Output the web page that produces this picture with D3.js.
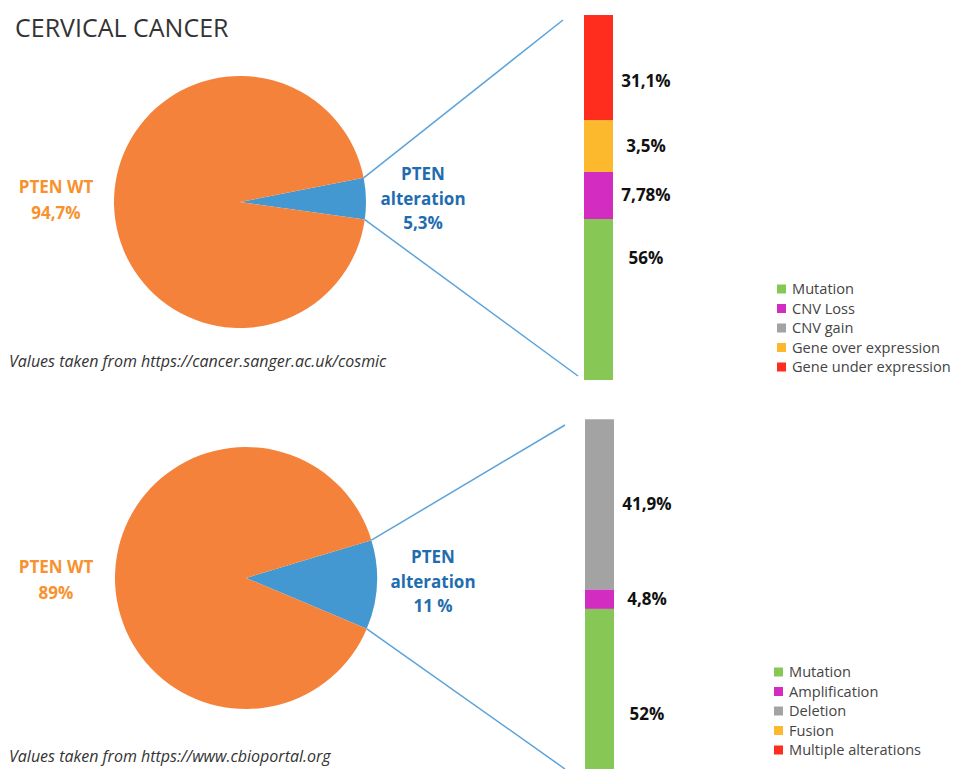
<!DOCTYPE html>
<html>
<head>
<meta charset="utf-8">
<script src="https://d3js.org/d3.v7.min.js"></script>
<style>
  body { margin: 0; background: #fff; }
  svg { display: block; font-family: 'Open Sans', sans-serif; }
</style>
</head>
<body>
<svg id="chart" width="955" height="769"></svg>
<script>
// --- data ---
const cosmicPie = [5.3, 94.7];
const cosmicPieLabels = ["5,3%", "94,7%"];
const cbioPie = [11, 89];
const cbioPieLabels = ["11 %", "89%"];

// top bar: shares as drawn in the picture (bottom to top), with printed labels
const cosmicBarKeys = ["Mutation", "CNV Loss", "Gene over expression", "Gene under expression"];
const cosmicBarShares = [44.1, 12.9, 14.2, 28.8];
const cosmicBarLabels = ["56%", "7,78%", "3,5%", "31,1%"];
const cosmicLegend = ["Mutation", "CNV Loss", "CNV gain", "Gene over expression", "Gene under expression"];

const cbioBarKeys = ["Mutation", "Amplification", "Deletion"];
const cbioBarShares = [52, 4.8, 41.9];
const cbioBarLabels = ["52%", "4,8%", "41,9%"];
const cbioLegend = ["Mutation", "Amplification", "Deletion", "Fusion", "Multiple alterations"];

const legendColors = ["#86c755", "#d22cc0", "#a3a3a3", "#fdb92e", "#ff2d1e"];
const cosmicColors = d3.scaleOrdinal().domain(cosmicLegend).range(legendColors);
const cbioColors = d3.scaleOrdinal().domain(cbioLegend).range(legendColors);

const svg = d3.select("#chart");

svg.append("text")
  .attr("x", 15).attr("y", 37)
  .attr("font-size", 25).attr("fill", "#333")
  .text("CERVICAL CANCER");

function drawPanel(opt) {
  const g = svg.append("g");

  // pie
  const alt = opt.pie[0] / 100;
  const mid = opt.midAngle * Math.PI / 180;
  const pie = d3.pie().sort(null).value(d => d)
    .startAngle(mid - alt * Math.PI)
    .endAngle(mid - alt * Math.PI + 2 * Math.PI);
  const arcs = pie(opt.pie);
  const arc = d3.arc().innerRadius(0).outerRadius(opt.r);
  const pg = g.append("g").attr("transform", `translate(${opt.cx},${opt.cy})`);
  pg.selectAll("path").data(arcs).enter().append("path")
    .attr("d", arc)
    .attr("fill", (d, i) => i === 0 ? "#4498d2" : "#f5823b");

  // connector lines from the wedge corners to the bar
  const a0 = arcs[0].startAngle, a1 = arcs[0].endAngle;
  const corner = a => [opt.cx + opt.r * Math.sin(a), opt.cy - opt.r * Math.cos(a)];
  [[corner(a0), opt.lineTop], [corner(a1), opt.lineBottom]].forEach(([p, q]) => {
    g.append("line")
      .attr("x1", p[0]).attr("y1", p[1]).attr("x2", q[0]).attr("y2", q[1])
      .attr("stroke", "#5ba3db").attr("stroke-width", 1.5);
  });

  // pie labels
  const wt = g.append("text").attr("text-anchor", "middle")
    .attr("font-weight", "bold").attr("font-size", 17).attr("fill", "#f7922f");
  wt.append("tspan").attr("x", 56).attr("y", opt.wtY).text("PTEN WT");
  wt.append("tspan").attr("x", 56).attr("y", opt.wtY + 26).text(opt.pieLabels[1]);

  const al = g.append("text").attr("text-anchor", "middle")
    .attr("font-weight", "bold").attr("font-size", 17).attr("fill", "#1f6dae");
  ["PTEN", "alteration", opt.pieLabels[0]].forEach((t, i) => {
    al.append("tspan").attr("x", opt.altX).attr("y", opt.altY + i * 24.5).text(t);
  });

  // stacked bar
  const y = d3.scaleLinear().domain([0, 100]).range(opt.barRange);
  const stacked = d3.cumsum(opt.shares);
  const segs = opt.shares.map((v, i) => ({
    key: opt.keys[i], label: opt.labels[i],
    y0: i ? stacked[i - 1] : 0, y1: stacked[i]
  }));
  g.selectAll("rect.seg").data(segs).enter().append("rect")
    .attr("class", "seg")
    .attr("x", opt.barX).attr("width", 29)
    .attr("y", d => y(d.y1))
    .attr("height", d => y(d.y0) - y(d.y1))
    .attr("fill", d => opt.color(d.key));
  g.selectAll("text.val").data(segs).enter().append("text")
    .attr("class", "val")
    .attr("x", opt.barX + 62).attr("text-anchor", "middle")
    .attr("y", (d, i) => (y(d.y0) + y(d.y1)) / 2 + 6 + opt.labelShift[i])
    .attr("font-weight", "bold").attr("font-size", 17).attr("fill", "#111")
    .text(d => d.label);

  // legend
  const lg = g.append("g").attr("transform", `translate(${opt.legendX},${opt.legendY})`);
  const row = lg.selectAll("g").data(opt.legend).enter().append("g")
    .attr("transform", (d, i) => `translate(0,${i * 19.5})`);
  row.append("rect").attr("x", 0).attr("y", -4.5).attr("width", 9).attr("height", 9)
    .attr("fill", d => opt.color(d));
  row.append("text").attr("x", 15).attr("y", 5)
    .attr("font-size", 14.6).attr("fill", "#444").text(d => d);

  // source note
  g.append("text").attr("x", 9).attr("y", opt.noteY)
    .attr("font-size", 16).attr("font-style", "italic").attr("fill", "#333")
    .text(opt.note);
}

drawPanel({
  pie: cosmicPie, pieLabels: cosmicPieLabels, cx: 240, cy: 202, r: 126, midAngle: 88.5,
  lineTop: [563, 20], lineBottom: [578, 376],
  wtY: 193, altX: 423, altY: 180,
  keys: cosmicBarKeys, shares: cosmicBarShares, labels: cosmicBarLabels,
  labelShift: [-42, 0, 0, 13],
  barX: 584, barRange: [380, 15], color: cosmicColors,
  legend: cosmicLegend, legendX: 777, legendY: 289,
  note: "Values taken from https://cancer.sanger.ac.uk/cosmic", noteY: 367
});

drawPanel({
  pie: cbioPie, pieLabels: cbioPieLabels, cx: 246, cy: 578, r: 131, midAngle: 93,
  lineTop: [565, 425], lineBottom: [565, 769],
  wtY: 573, altX: 433, altY: 563,
  keys: cbioBarKeys, shares: cbioBarShares, labels: cbioBarLabels,
  labelShift: [0, 0, 0],
  barX: 585, barRange: [820, 414], color: cbioColors,
  legend: cbioLegend, legendX: 774, legendY: 672,
  note: "Values taken from https://www.cbioportal.org", noteY: 762
});
</script>
</body>
</html>
